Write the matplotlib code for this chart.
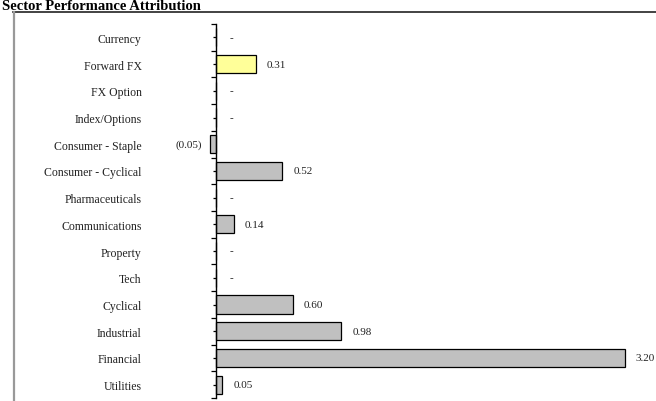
import matplotlib
matplotlib.use("Agg")
import matplotlib.pyplot as plt
from matplotlib.lines import Line2D

categories = ["Currency", "Forward FX", "FX Option", "Index/Options", "Consumer - Staple",
              "Consumer - Cyclical", "Pharmaceuticals", "Communications", "Property", "Tech",
              "Cyclical", "Industrial", "Financial", "Utilities"]
values = [0.0, 0.31, 0.0, 0.0, -0.05, 0.52, 0.0, 0.14, 0.0, 0.0, 0.60, 0.98, 3.20, 0.05]
highlight = "Forward FX"

W, H = 656, 402
dpi = 100
fig = plt.figure(figsize=(W / dpi, H / dpi), dpi=dpi)
fig.patch.set_facecolor("white")

serif = ["Liberation Serif", "DejaVu Serif"]

# axes placement in pixels
ax_left_px, ax_right_px = 150, 656
ax_top_px, ax_bot_px = 25, 399
ax = fig.add_axes([ax_left_px / W, 1 - ax_bot_px / H,
                   (ax_right_px - ax_left_px) / W, (ax_bot_px - ax_top_px) / H])
ax.set_facecolor("none")

zero_px = 216.0
px_per_unit = 127.8
ax.set_xlim((ax_left_px - zero_px) / px_per_unit, (ax_right_px - zero_px) / px_per_unit)
n = len(categories)
ax.set_ylim(n - 0.5, -0.5)

colors = ["#FFFF99" if c == highlight else "#C0C0C0" for c in categories]
ypos = list(range(n))
ax.barh(ypos, values, height=0.68, color=colors, edgecolor="black", linewidth=0.9, zorder=2)

for s in ["top", "right", "bottom"]:
    ax.spines[s].set_visible(False)
ax.spines["left"].set_position(("data", 0))
ax.spines["left"].set_linewidth(1.0)
ax.spines["left"].set_zorder(3)
ax.set_xticks([])

ax.set_yticks(ypos)
ax.set_yticklabels(categories, fontfamily=serif, fontsize=8.5, color="#222222")
ax.set_yticks([i - 0.5 for i in range(n + 1)], minor=True)
ax.tick_params(axis="y", which="major", length=2.5, width=0.9, pad=51, direction="out")
ax.tick_params(axis="y", which="minor", length=3.5, width=0.9, direction="out")

off = 11 / px_per_unit
for y, v in zip(ypos, values):
    if v > 0:
        ax.text(v + off, y, f"{v:.2f}", va="center", ha="left", fontfamily=serif,
                fontsize=8, color="#222222")
    elif v < 0:
        ax.text(v - 8 / px_per_unit, y, f"({abs(v):.2f})", va="center", ha="right",
                fontfamily=serif, fontsize=8, color="#222222")
    else:
        ax.text(15 / px_per_unit, y, "-", va="center", ha="center", fontfamily=serif,
                fontsize=8, color="#222222")

# chart frame lines
fig.add_artist(Line2D([13 / W, 1.0], [1 - 13 / H, 1 - 13 / H], color="#222222", linewidth=1.2))
fig.add_artist(Line2D([14 / W, 14 / W], [0, 1 - 13 / H], color="#999999", linewidth=1.6))

fig.text(2 / W, 1 - 10 / H, "Sector Performance Attribution", fontfamily=serif,
         fontweight="bold", fontsize=10.5, ha="left", va="baseline", color="black")

fig.savefig("out.png", dpi=dpi)
